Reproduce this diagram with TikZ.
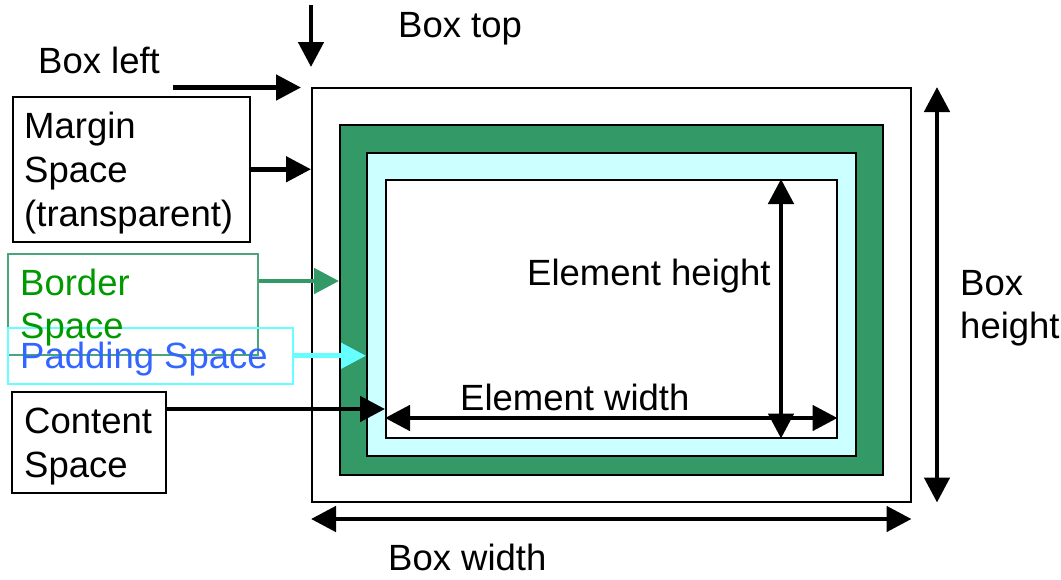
\documentclass[tikz,border=0pt]{standalone}
\usepackage{fontspec}
\setmainfont{Liberation Sans}
\usetikzlibrary{arrows.meta,calc}
\definecolor{bordergreen}{HTML}{339966}
\definecolor{padcyan}{HTML}{CCFFFF}
\definecolor{padline}{HTML}{66FFFF}
\definecolor{bordertext}{HTML}{009900}
\definecolor{padtext}{HTML}{3366FF}
\definecolor{borderline}{HTML}{4CA47A}
\tikzset{
  lbl/.style={font=\fontsize{36.5}{44}\selectfont, inner sep=0pt, anchor=base west, align=left},
  bigarrow/.style={line width=4.8pt, -{Triangle[length=25pt,width=25pt]}},
  dblarrow/.style={line width=4.8pt, {Triangle[length=25pt,width=25pt]}-{Triangle[length=25pt,width=25pt]}},
  region/.style={rectangle, inner sep=0pt, anchor=north west},
}
\begin{document}
\begin{tikzpicture}[x=1pt,y=-1pt]
\useasboundingbox (0,0) rectangle (1061,579);
% nested boxes
\node[region, draw=black, line width=1.5pt, fill=white, minimum width=599pt, minimum height=414pt] (outer) at (311,87) {};
\node[region, draw=black, line width=1.5pt, fill=bordergreen, minimum width=543pt, minimum height=350pt] (green) at (339,124) {};
\node[region, draw=black, line width=1.5pt, fill=padcyan, minimum width=489pt, minimum height=303pt] (cyan) at (366,152) {};
\node[region, draw=black, line width=1.5pt, fill=white, minimum width=451pt, minimum height=258pt] (content) at (385,179) {};
% left label boxes
\node[region, draw=black, line width=1.5pt, minimum width=237pt, minimum height=145pt] (marginbox) at (12,96) {};
\node[region, draw=borderline, line width=1.5pt, minimum width=250pt, minimum height=101pt] (borderbox) at (7,253) {};
\node[region, draw=padline, line width=1.5pt, minimum width=285pt, minimum height=56pt] (padbox) at (7,327) {};
\node[region, draw=black, line width=1.5pt, minimum width=154pt, minimum height=101pt] (contentbox) at (11,391) {};
% texts (base anchor = last line)
\node[lbl] (tboxtop) at (398,37) {Box top};
\node[lbl] (tboxleft) at (38,73) {Box left};
\node[lbl] (tmargin) at (24,226) {Margin\\Space\\(transparent)};
\node[lbl, text=bordertext, font=\fontsize{36.5}{43}\selectfont] (tborder) at (20,338) {Border\\Space};
\node[lbl, text=padtext] (tpad) at (20,368) {Padding Space};
\node[lbl] (tcontent) at (24,477) {Content\\Space};
\node[lbl] (telh) at (527,285) {Element height};
\node[lbl] (telw) at (460,410) {Element width};
\node[lbl, font=\fontsize{36.5}{43}\selectfont] (tboxh) at (960,338) {Box\\height};
\node[lbl] (tboxw) at (388,570) {Box width};
% coordinates
\coordinate (topstart) at (311,5);
\coordinate (topend) at (311,67);
\coordinate (leftstart) at (173,87.5);
\coordinate (leftend) at (301,87.5);
\coordinate (bordery) at (0,281);
\coordinate (contenty) at (0,409);
\coordinate (elwy) at (0,418);
\coordinate (elhx) at (781,0);
\coordinate (bhx) at (937,0);
\coordinate (bwy) at (0,519);
% arrows
\draw[bigarrow] (topstart) -- (topend);
\draw[bigarrow] (leftstart) -- (leftend);
\draw[bigarrow] (marginbox.east) -- (marginbox.east -| outer.west);
\draw[bigarrow, draw=bordergreen, fill=bordergreen] (borderbox.east |- bordery) -- (green.west |- bordery);
\draw[bigarrow, draw=padline, fill=padline] (padbox.east) -- (padbox.east -| cyan.west);
\draw[bigarrow] (contentbox.east |- contenty) -- (content.west |- contenty);
\draw[dblarrow] (content.west |- elwy) -- (content.east |- elwy);
\draw[dblarrow] (content.north -| elhx) -- (content.south -| elhx);
\draw[dblarrow] (outer.north -| bhx) -- (outer.south -| bhx);
\draw[dblarrow] (outer.west |- bwy) -- (outer.east |- bwy);
\end{tikzpicture}
\end{document}
